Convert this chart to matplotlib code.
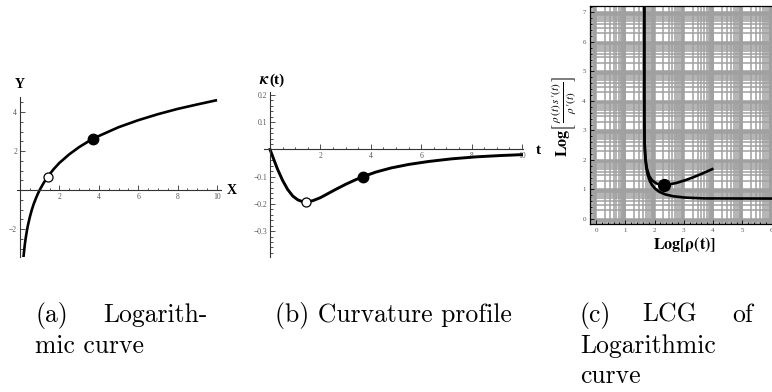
import numpy as np
import matplotlib.pyplot as plt
from matplotlib.ticker import MultipleLocator

# (a) logarithmic curve
curve_x = [0.16, 0.18, 0.2, 0.23, 0.26, 0.3, 0.35, 0.4, 0.5, 0.6, 0.7, 0.8, 0.9, 1.0,
           1.2, 1.4, 1.7, 2.0, 2.5, 3.0, 3.5, 4.0, 5.0, 6.0, 7.0, 8.0, 9.0, 10.0]
curve_y = [-3.67, -3.43, -3.22, -2.94, -2.69, -2.41, -2.10, -1.83, -1.39, -1.02, -0.71,
           -0.45, -0.21, 0.0, 0.36, 0.67, 1.06, 1.39, 1.83, 2.20, 2.51, 2.77, 3.22,
           3.58, 3.89, 4.16, 4.39, 4.61]
open_pt_a = (1.41, 0.69)
full_pt_a = (3.7, 2.62)

# (b) curvature profile
t_vals = [0, 0.15, 0.3, 0.5, 0.7, 0.9, 1.1, 1.3, 1.5, 1.7, 2.0, 2.3, 2.6, 3.0, 3.4,
          3.7, 4.2, 4.8, 5.5, 6.3, 7.2, 8.2, 9.1, 10]
kappa = [0, -0.037, -0.073, -0.114, -0.147, -0.171, -0.185, -0.192, -0.192, -0.188,
         -0.177, -0.162, -0.147, -0.128, -0.111, -0.0995, -0.083, -0.068, -0.055,
         -0.044, -0.0345, -0.027, -0.0225, -0.019]
open_pt_b = (1.41, -0.192)
full_pt_b = (3.7, -0.0995)

# (c) LCG, two branches
lcg1_x = [1.648, 1.648, 1.649, 1.653, 1.658, 1.665, 1.688, 1.721, 1.768, 1.832, 1.916,
          2.027, 2.170, 2.362, 2.624, 3.01, 3.36, 3.693, 4.201, 4.893, 5.586, 5.99, 6.35]
lcg1_y = [7.4, 4.667, 3.68, 3.09, 2.708, 2.43, 2.018, 1.721, 1.489, 1.302, 1.147,
          1.021, 0.918, 0.835, 0.773, 0.728, 0.710, 0.697, 0.696, 0.694, 0.693, 0.693, 0.693]
lcg2_x = [1.648, 1.648, 1.649, 1.650, 1.658, 1.672, 1.689, 1.733, 1.818, 1.915, 2.056,
          2.200, 2.308, 2.484, 2.749, 3.048, 3.316, 3.668, 3.971]
lcg2_y = [7.4, 4.622, 3.861, 3.44, 2.71, 2.319, 2.06, 1.733, 1.459, 1.311, 1.208,
          1.166, 1.157, 1.169, 1.222, 1.314, 1.412, 1.556, 1.690]
full_pt_c = (2.308, 1.157)

W, H = 772, 392
fig = plt.figure(figsize=(W / 100, H / 100), dpi=100)

def box(l, t, r, b):
    return [l / W, 1 - b / H, (r - l) / W, (b - t) / H]

def fx(x):
    return x / W

def fy(y):
    return 1 - y / H

lab_font = dict(family='Liberation Serif', weight='bold', color='black')
axis_col = '#333333'


def cross_axes(ax):
    for s in ['top', 'right']:
        ax.spines[s].set_visible(False)
    ax.spines['left'].set_position(('data', 0))
    ax.spines['bottom'].set_position(('data', 0))
    for s in ['left', 'bottom']:
        ax.spines[s].set_color(axis_col)
        ax.spines[s].set_linewidth(0.8)
    ax.tick_params(which='both', direction='in', color=axis_col, width=0.6,
                   labelsize=5.5, labelcolor='#555555', pad=2)
    ax.tick_params(which='major', length=3.5)
    ax.tick_params(which='minor', length=1.8)
    for lb in ax.get_xticklabels() + ax.get_yticklabels():
        lb.set_family('Liberation Serif')
    ax.patch.set_alpha(0)


# ---- (a)
ax1 = fig.add_axes(box(17, 97.4, 221, 257.3))
ax1.plot(curve_x, curve_y, color='black', lw=1.9, solid_capstyle='butt')
ax1.plot(*full_pt_a, 'o', color='black', ms=7.5)
ax1.plot(*open_pt_a, 'o', mfc='white', mec='black', ms=6.5, mew=0.9)
ax1.set_xlim(-0.15, 10.2)
ax1.set_ylim(-3.45, 4.75)
ax1.set_xticks([2, 4, 6, 8, 10])
ax1.set_yticks([-2, 2, 4])
ax1.set_yticklabels(['\u22122', '2', '4'])
ax1.xaxis.set_minor_locator(MultipleLocator(0.5))
ax1.yaxis.set_minor_locator(MultipleLocator(0.5))
cross_axes(ax1)
fig.text(fx(232), fy(191), 'X', ha='center', va='center', size=10, **lab_font)
fig.text(fx(19.5), fy(84), 'Y', ha='center', va='center', size=10, **lab_font)

# ---- (b)
ax2 = fig.add_axes(box(264, 92.3, 523.3, 257))
ax2.plot(t_vals, kappa, color='black', lw=2.1)
ax2.plot(*full_pt_b, 'o', color='black', ms=7.5)
ax2.plot(*open_pt_b, 'o', mfc='white', mec='black', ms=6.5, mew=0.9)
ax2.set_xlim(-0.24, 10.05)
ax2.set_ylim(-0.395, 0.21)
ax2.set_xticks([2, 4, 6, 8, 10])
ax2.set_yticks([-0.3, -0.2, -0.1, 0.1, 0.2])
ax2.set_yticklabels(['\u22120.3', '\u22120.2', '\u22120.1', '0.1', '0.2'])
ax2.xaxis.set_minor_locator(MultipleLocator(0.5))
ax2.yaxis.set_minor_locator(MultipleLocator(0.02))
cross_axes(ax2)
fig.text(fx(263.5), fy(80), '\u03ba', ha='center', va='center', size=12,
         family='STIXGeneral', style='italic', weight='bold')
fig.text(fx(269), fy(80), '(t)', ha='left', va='center', size=11, **lab_font)
fig.text(fx(538), fy(151), 't', ha='center', va='center', size=11, **lab_font)

# ---- (c)
ax3 = fig.add_axes(box(590, 6, 779, 224))
ax3.set_xlim(-0.205, 6.25)
ax3.set_ylim(-0.17, 7.22)
grid_k = np.array([1, 2, 3, 4, 5, 6, 7, 8, 8.5, 9, 9.3, 9.6])
grid_pos = (np.arange(-1, 8)[:, None] + np.log10(grid_k)[None, :]).ravel()
for g in grid_pos:
    ax3.axvline(g, color='#a0a0a0', lw=1.1, zorder=0)
    ax3.axhline(g, color='#a0a0a0', lw=1.1, zorder=0)
ax3.plot(lcg1_x, lcg1_y, color='black', lw=1.9, zorder=3)
ax3.plot(lcg2_x, lcg2_y, color='black', lw=1.9, zorder=3)
ax3.plot(*full_pt_c, 'o', color='black', ms=8.5, zorder=4)
ax3.set_xticks(range(0, 7))
ax3.set_yticks(range(0, 8))
ax3.xaxis.set_minor_locator(MultipleLocator(0.2))
ax3.yaxis.set_minor_locator(MultipleLocator(0.2))
ax3.tick_params(which='both', direction='in', color='black', width=0.6,
                labelsize=5, labelcolor='#555555', pad=3)
ax3.tick_params(which='major', length=3)
ax3.tick_params(which='minor', length=1.5)
for lb in ax3.get_xticklabels() + ax3.get_yticklabels():
    lb.set_family('Liberation Serif')
for s in ax3.spines.values():
    s.set_linewidth(0.9)
fig.text(fx(684), fy(244), r'$\mathbf{Log[\rho(t)]}$', ha='center', va='center',
         size=11.5, math_fontfamily='stix')
fig.text(fx(565), fy(117),
         r'$\mathbf{Log}\left[\,\frac{\rho\,(t)\,s\,\prime(t)}{\rho\,\prime(t)}\right]$',
         ha='center', va='center', size=11.5, rotation=90, math_fontfamily='stix')

# ---- captions
cap = dict(family='cmr10', size=18.5, va='baseline', color='black')
fig.text(fx(35), fy(322), '(a)', ha='left', **cap)
fig.text(fx(208), fy(322), 'Logarith-', ha='right', **cap)
fig.text(fx(35), fy(353), 'mic curve', ha='left', **cap)
fig.text(fx(275), fy(322), '(b) Curvature profile', ha='left', **cap)
fig.text(fx(580), fy(322), '(c)', ha='left', **cap)
fig.text(fx(642), fy(322), 'LCG', ha='left', **cap)
fig.text(fx(753), fy(322), 'of', ha='right', **cap)
fig.text(fx(580), fy(353), 'Logarithmic', ha='left', **cap)
fig.text(fx(580), fy(383), 'curve', ha='left', **cap)

fig.savefig('out.png', dpi=100)
